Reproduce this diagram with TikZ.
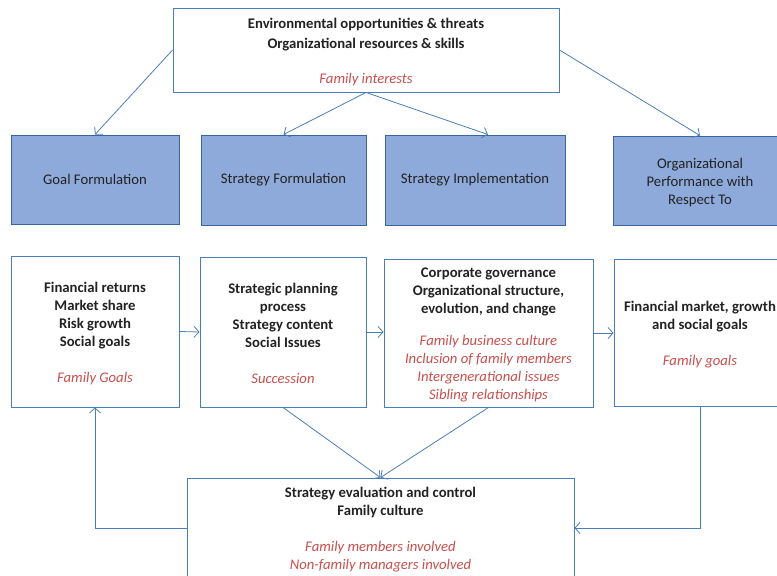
\documentclass[tikz,border=0pt]{standalone}
\usepackage{fontspec}
\setmainfont{Carlito}
\usetikzlibrary{arrows.meta}
\definecolor{bline}{HTML}{4A7EBB}
\definecolor{bfill}{HTML}{8EAADB}
\definecolor{bdark}{HTML}{3A64A0}
\definecolor{rtext}{HTML}{C8504D}
\definecolor{tblack}{HTML}{222222}
\newcommand{\rt}[1]{{\color{rtext}\itshape #1}}
\newcommand{\dn}{\rule{0pt}{14pt}}
\begin{document}
\begin{tikzpicture}[x=1pt,y=-1pt,
  box/.style={draw=bline, line width=0.9pt, fill=white, inner sep=0pt, align=center,
    text=tblack, font=\fontsize{14.7}{18}\selectfont},
  bluebox/.style={box, fill=bfill, draw=bdark},
  arr/.style={draw=bline, line width=0.8pt, -{Straight Barb[length=5pt,width=11pt]}}]
\useasboundingbox (0,0) rectangle (777,576);
\clip (0,0) rectangle (777,576);
% top box
\node[box, minimum width=386pt, minimum height=84pt, font=\fontsize{14.7}{20}\selectfont] (env) at (366,50)
  {\dn\textbf{Environmental opportunities \& threats}\\ \textbf{Organizational resources \& skills}\\[15pt] \rt{Family interests}};
% blue row
\node[bluebox, minimum width=168pt, minimum height=89pt] (goalf) at (95,179.5) {Goal Formulation};
\node[bluebox, minimum width=165pt, minimum height=90pt] (stratf) at (283.5,180) {Strategy Formulation};
\node[bluebox, minimum width=180pt, minimum height=90pt] (impl) at (475,180) {Strategy Implementation};
\node[bluebox, minimum width=174pt, minimum height=89pt] (perf) at (700,180.5) {\dn Organizational\\ Performance with\\ Respect To};
% lower row
\node[box, minimum width=168pt, minimum height=151pt] (b1) at (95,331.5)
  {\dn\textbf{Financial returns}\\ \textbf{Market share}\\ \textbf{Risk growth}\\ \textbf{Social goals}\\[18pt] \rt{Family Goals}};
\node[box, minimum width=166pt, minimum height=150pt] (b2) at (283,332)
  {\dn\textbf{Strategic planning}\\ \textbf{process}\\ \textbf{Strategy content}\\ \textbf{Social Issues}\\[18pt] \rt{Succession}};
\node[box, minimum width=209pt, minimum height=148pt] (b3) at (488.5,333)
  {\dn\textbf{Corporate governance}\\ \textbf{Organizational structure,}\\ \textbf{evolution, and change}\\[14pt] \rt{Family business culture}\\ \rt{Inclusion of family members}\\ \rt{Intergenerational issues}\\ \rt{Sibling relationships}};
\node[box, minimum width=172pt, minimum height=147pt] (b4) at (700,332.5)
  {\dn\textbf{Financial market, growth}\\ \textbf{and social goals}\\[18pt] \rt{Family goals}};
% bottom box
\node[box, minimum width=387pt, minimum height=100pt] (bot) at (380.5,528)
  {\dn\textbf{Strategy evaluation and control}\\ \textbf{Family culture}\\[18pt] \rt{Family members involved}\\ \rt{Non-family managers involved}};
% connectors
\draw[arr] (env.west) -- (goalf.north);
\draw[arr] (env.east) -- (perf.north);
\draw[arr] (env.south) -- (stratf.north);
\draw[arr] (env.south) -- ([xshift=13pt]impl.north);
\draw[arr] (b1.east) -- (b2.west);
\draw[arr] (b2.east) -- (b2.east -| b3.west);
\draw[arr] (b3.east) -- (b3.east -| b4.west);
\draw[arr] (b2.south) -- (bot.north);
\draw[arr] (b3.south) -- (bot.north);
\draw[arr] (b4.south) |- (bot.east);
\draw[arr] (bot.west) -| (b1.south);
\end{tikzpicture}
\end{document}
